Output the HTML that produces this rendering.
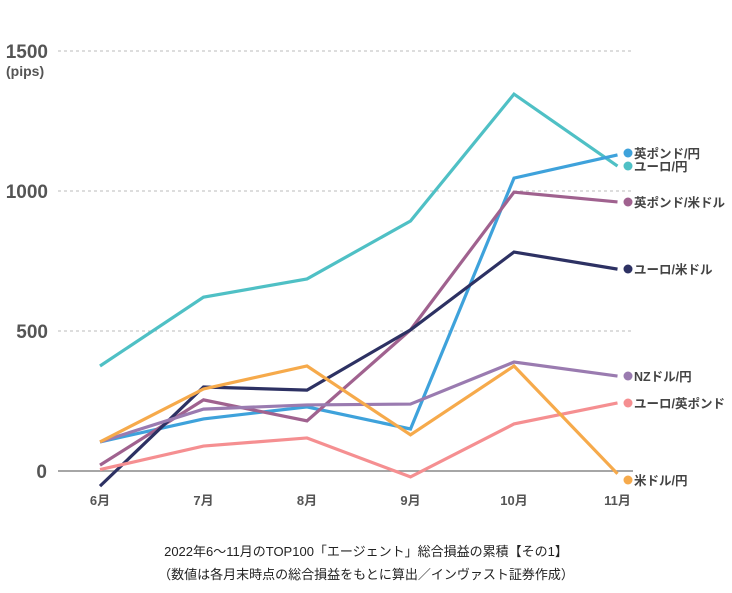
<!DOCTYPE html>
<html><head><meta charset="utf-8"><style>
body{margin:0;background:#fff;width:732px;height:588px;overflow:hidden;font-family:"Liberation Sans","Noto Sans CJK JP",sans-serif}
svg text{font-family:"Liberation Sans","Noto Sans CJK JP",sans-serif}
</style></head><body>
<svg id="chart" width="732" height="588" xmlns="http://www.w3.org/2000/svg"></svg>
<script>
const categories=["6月","7月","8月","9月","10月","11月"];
const yTicks=[0,500,1000,1500];
const seriesNames=["ユーロ/円","英ポンド/円","英ポンド/米ドル","ユーロ/米ドル","NZドル/円","ユーロ/英ポンド","米ドル/円"];
const eurJpy=[375,621,686,893,1346,1089];
const gbpJpy=[104,186,229,150,1046,1129];
const gbpUsd=[21,254,179,504,996,961];
const eurUsd=[-54,300,289,504,782,721];
const nzdJpy=[104,221,236,239,389,339];
const eurGbp=[5,89,118,-21,168,243];
const usdJpy=[104,293,375,129,375,-10];
const colors=["#4fc0c5","#3ea2db","#a0628f","#2d3163","#9a7bb0","#f58f91","#f6aa4b"];
const legendY=[166,153,202,269,376,403,480];
const allSeries=[eurJpy,gbpJpy,gbpUsd,eurUsd,nzdJpy,eurGbp,usdJpy];
const NS="http://www.w3.org/2000/svg";
const svg=document.getElementById('chart');
const x=i=>100+i*103.5;
const y=v=>471-v*0.28;
function mk(t,a){const e=document.createElementNS(NS,t);for(const k in a)e.setAttribute(k,a[k]);svg.appendChild(e);return e;}
yTicks.forEach(t=>{
  const l=mk('line',{x1:58,x2:633,y1:y(t),y2:y(t),stroke:t===0?'#888':'#bbb','stroke-width':t===0?1.5:1,'stroke-dasharray':t===0?'none':'3,3'});
  
  
  const tx=mk('text',{x:t===0?47:48,y:y(t)+7,'text-anchor':'end','font-size':19,'font-weight':'bold',fill:'#555'});
  tx.textContent=t;
  
  
});
const u=mk('text',{x:6,y:76,'font-size':14,'font-weight':'bold',fill:'#555'});u.textContent='(pips)';


categories.forEach((c,i)=>{
  const t=mk('text',{x:x(i),y:505,'text-anchor':'middle','font-size':13,'font-weight':'bold',fill:'#555'});t.textContent=c;
  
  
});
allSeries.forEach((s,k)=>{
  const p=mk('polyline',{points:s.map((v,i)=>x(i)+','+y(v)).join(' '),fill:'none',stroke:colors[k],'stroke-width':3.2,'stroke-linejoin':'miter'});
  
  
  const d=mk('circle',{cx:628,cy:legendY[k],r:4.5,fill:colors[k]});
  
  
  const t=mk('text',{x:634,y:legendY[k]+5,'font-size':12.5,'font-weight':'bold',fill:'#444'});t.textContent=seriesNames[k];
  
  
});
const c1=mk('text',{x:366,y:556,'text-anchor':'middle','font-size':13,fill:'#222'});c1.textContent='2022年6〜11月のTOP100「エージェント」総合損益の累積【その1】';


const c2=mk('text',{x:366,y:579,'text-anchor':'middle','font-size':13,fill:'#222'});c2.textContent='（数値は各月末時点の総合損益をもとに算出／インヴァスト証券作成）';


</script>
</body></html>
